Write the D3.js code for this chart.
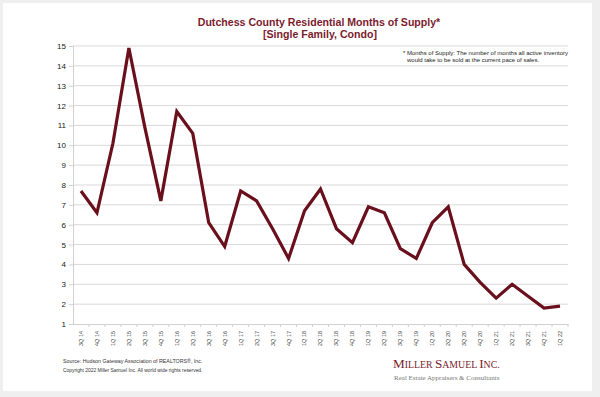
<!DOCTYPE html>
<html>
<head>
<meta charset="utf-8">
<script src="https://cdn.jsdelivr.net/npm/d3@7"></script>
<style>
  html, body { margin: 0; padding: 0; background: #efefef; }
  #chart { width: 600px; height: 397px; }
  text { font-family: "Liberation Sans", Arial, sans-serif; }
</style>
</head>
<body>
<div id="chart"></div>
<script>
// quarters shown on the x axis
const quarters = [
  "3Q 14", "4Q 14",
  "1Q 15", "2Q 15", "3Q 15", "4Q 15",
  "1Q 16", "2Q 16", "3Q 16", "4Q 16",
  "1Q 17", "2Q 17", "3Q 17", "4Q 17",
  "1Q 18", "2Q 18", "3Q 18", "4Q 18",
  "1Q 19", "2Q 19", "3Q 19", "4Q 19",
  "1Q 20", "2Q 20", "3Q 20", "4Q 20",
  "1Q 21", "2Q 21", "3Q 21", "4Q 21",
  "1Q 22"
];
// months of supply
const monthsOfSupply = [
  7.7, 6.6,
  10.1, 14.9, 10.9, 7.2,
  11.7, 10.6, 6.1, 4.9,
  7.7, 7.2, 5.8, 4.3,
  6.7, 7.8, 5.8, 5.1,
  6.9, 6.6, 4.8, 4.3,
  6.1, 6.9, 4.0, 3.1,
  2.3, 3.0, 2.4, 1.8,
  1.9
];
const yTicks = [1, 2, 3, 4, 5, 6, 7, 8, 9, 10, 11, 12, 13, 14, 15];

const W = 600, H = 397;
const margin = { top: 46, right: 32, bottom: 73, left: 73 };
const width = W - margin.left - margin.right;
const height = H - margin.top - margin.bottom;

const root = d3.select("#chart").append("svg")
    .attr("width", W)
    .attr("height", H);

// white card on a grey page
root.append("rect")
    .attr("x", 3).attr("y", 3)
    .attr("width", 589).attr("height", 388)
    .attr("fill", "#fff");

// title
const title = root.append("text")
    .attr("text-anchor", "middle")
    .attr("fill", "#7b1b2c")
    .attr("font-weight", "bold")
    .attr("font-size", 10.6);
title.append("tspan").attr("x", 319).attr("y", 26).text("Dutchess County Residential Months of Supply*");
title.append("tspan").attr("x", 320).attr("y", 38).text("[Single Family, Condo]");

const svg = root.append("g")
    .attr("transform", `translate(${margin.left},${margin.top})`);

const x = d3.scaleBand()
    .domain(quarters)
    .range([0, width]);

const y = d3.scaleLinear()
    .domain([1, 15])
    .range([height, 0]);

// gridlines
svg.append("g")
    .selectAll("line")
    .data(yTicks.slice(1))
    .join("line")
    .attr("x1", 0).attr("x2", width)
    .attr("y1", d => y(d)).attr("y2", d => y(d))
    .attr("stroke", "#d9d9d9")
    .attr("stroke-width", 1);

// y axis
const yAxis = svg.append("g")
    .call(d3.axisLeft(y).tickValues(yTicks).tickSize(4).tickPadding(3));
yAxis.select(".domain").attr("stroke", "#d0d0d0");
yAxis.selectAll(".tick line").attr("stroke", "#d0d0d0");
yAxis.selectAll("text")
    .attr("font-size", 8)
    .attr("fill", "#222")
    .style("font-family", "'Liberation Sans', Arial, sans-serif");

// x axis
const xAxis = svg.append("g")
    .attr("transform", `translate(0,${height})`)
    .call(d3.axisBottom(x).tickSize(3).tickSizeOuter(0));
xAxis.select(".domain").attr("stroke", "#d0d0d0");
xAxis.selectAll(".tick line")
    .attr("stroke", "#d0d0d0")
    .attr("transform", `translate(${x.bandwidth() / 2},0)`);
xAxis.selectAll("text")
    .attr("font-size", 5.5)
    .attr("fill", "#444")
    .style("font-family", "'Liberation Sans', Arial, sans-serif")
    .attr("text-anchor", "end")
    .attr("dy", "0.35em")
    .attr("transform", "translate(0,3) rotate(-90)")
    .attr("x", -4)
    .attr("y", 0);

// line
const line = d3.line()
    .x((d, i) => x(quarters[i]) + x.bandwidth() / 2)
    .y(d => y(d));

svg.append("path")
    .datum(monthsOfSupply)
    .attr("fill", "none")
    .attr("stroke", "#6a0f1c")
    .attr("stroke-width", 3.2)
    .attr("stroke-linejoin", "miter")
    .attr("d", line);

// footnote
const note = root.append("text")
    .attr("font-size", 6)
    .attr("fill", "#222");
note.append("tspan").attr("x", 403).attr("y", 55)
    .text("* Months of Supply: The number of months all active inventory");
note.append("tspan").attr("x", 407).attr("y", 62)
    .text("would take to be sold at the current pace of sales.");

// source + copyright
root.append("text")
    .attr("x", 63).attr("y", 363)
    .attr("font-size", 5.3)
    .attr("fill", "#333")
    .text("Source: Hudson Gateway Association of REALTORS®, Inc.");
root.append("text")
    .attr("x", 63).attr("y", 372)
    .attr("font-size", 4.9)
    .attr("fill", "#333")
    .text("Copyright 2022 Miller Samuel Inc.  All world wide rights reserved.");

// logo
const logo = root.append("text")
    .attr("x", 393).attr("y", 368)
    .attr("fill", "#7b1b2c")
    .style("font-family", "'Liberation Serif', 'DejaVu Serif', serif")
    .attr("font-size", 13.2)
    .attr("letter-spacing", 0);
[["M", "ILLER "], ["S", "AMUEL "], ["I", "NC."]].forEach(([a, b]) => {
  logo.append("tspan").text(a);
  logo.append("tspan").attr("font-size", 9.8).text(b);
});
root.append("text")
    .attr("x", 394).attr("y", 380)
    .attr("fill", "#777")
    .style("font-family", "'Liberation Serif', 'DejaVu Serif', serif")
    .attr("font-size", 7)
    .text("Real Estate Appraisers & Consultants");
</script>
</body>
</html>
